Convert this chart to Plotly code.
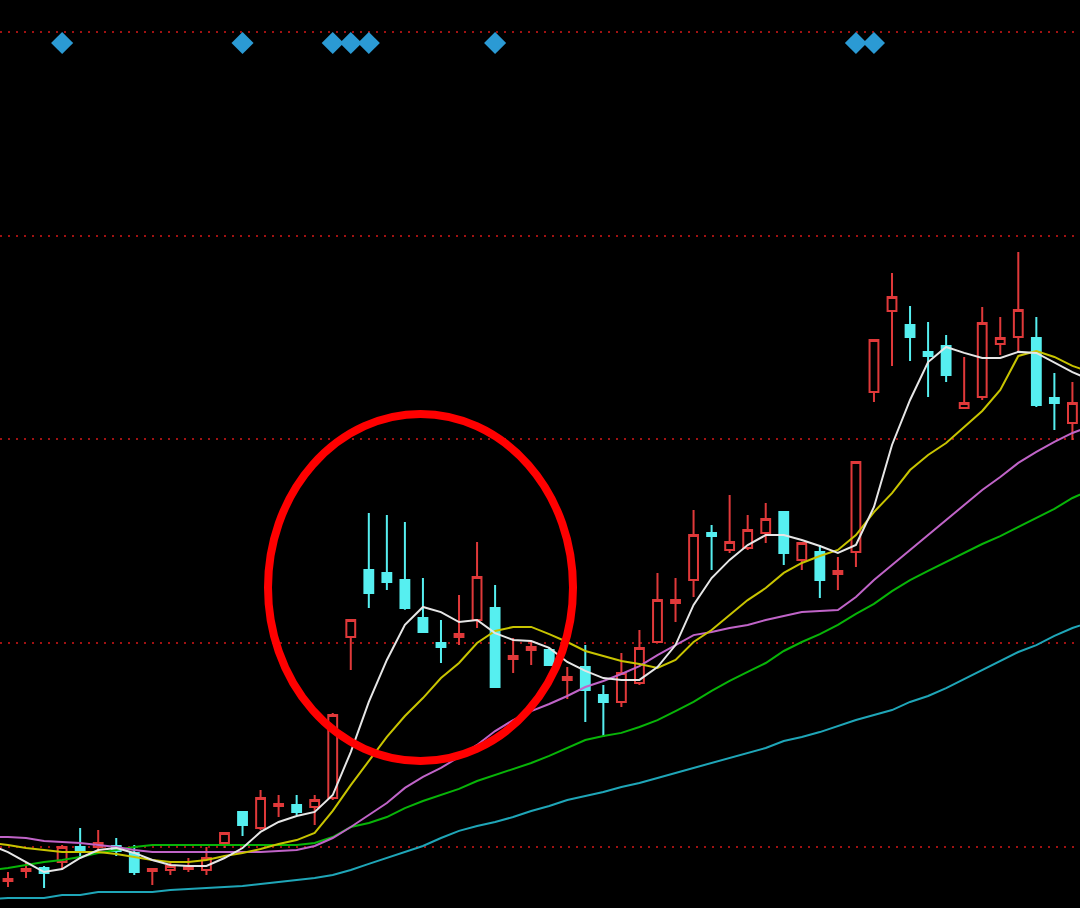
import plotly.graph_objects as go

# ---- candle data (index, open, high, low, close) ----
idx = list(range(60))
opens = [9.833, 9.882, 9.897, 9.926, 10.000, 10.000, 10.005, 9.971, 9.882, 9.887,
         9.892, 9.887, 10.020, 10.172, 10.093, 10.201, 10.206, 10.196, 10.240, 11.031,
         11.360, 11.345, 11.310, 11.124, 11.001, 11.031, 11.114, 11.173, 10.923, 10.967,
         10.967, 10.820, 10.883, 10.746, 10.712, 10.805, 11.006, 11.198, 11.310, 11.541,
         11.458, 11.468, 11.541, 11.644, 11.409, 11.448, 11.340, 11.448, 12.233, 12.631,
         12.562, 12.430, 12.459, 12.155, 12.209, 12.469, 12.503, 12.498, 12.204, 12.081]
highs = [9.877, 9.921, 9.907, 10.010, 10.093, 10.083, 10.044, 10.010, 9.892, 9.921,
         9.946, 10.000, 10.069, 10.172, 10.280, 10.255, 10.255, 10.255, 10.658, 11.114,
         11.639, 11.629, 11.595, 11.320, 11.114, 11.237, 11.497, 11.286, 11.026, 11.006,
         10.977, 10.883, 10.991, 10.795, 10.952, 11.065, 11.345, 11.320, 11.654, 11.580,
         11.728, 11.629, 11.688, 11.649, 11.497, 11.482, 11.423, 11.895, 12.488, 12.817,
         12.655, 12.577, 12.513, 12.405, 12.650, 12.601, 12.920, 12.601, 12.326, 12.282]
lows = [9.804, 9.848, 9.799, 9.887, 9.951, 9.985, 9.956, 9.863, 9.813, 9.863,
        9.877, 9.863, 9.995, 10.054, 10.083, 10.147, 10.157, 10.108, 10.231, 10.869,
        11.173, 11.261, 11.165, 11.050, 10.903, 10.991, 11.075, 10.780, 10.854, 10.893,
        10.888, 10.726, 10.614, 10.540, 10.687, 10.795, 11.001, 11.104, 11.227, 11.360,
        11.443, 11.458, 11.492, 11.384, 11.360, 11.222, 11.261, 11.374, 12.184, 12.361,
        12.385, 12.209, 12.282, 12.150, 12.194, 12.415, 12.425, 12.160, 12.047, 11.998]
closes = [9.843, 9.892, 9.872, 10.000, 9.985, 10.020, 9.980, 9.877, 9.892, 9.907,
          9.907, 9.946, 10.069, 10.108, 10.240, 10.211, 10.172, 10.231, 10.648, 11.114,
          11.247, 11.301, 11.173, 11.055, 10.982, 11.045, 11.325, 10.785, 10.937, 10.982,
          10.893, 10.834, 10.771, 10.712, 10.854, 10.977, 11.212, 11.212, 11.531, 11.526,
          11.497, 11.556, 11.610, 11.443, 11.492, 11.310, 11.355, 11.890, 12.488, 12.699,
          12.503, 12.410, 12.317, 12.179, 12.572, 12.498, 12.636, 12.169, 12.179, 12.179]

# ---- moving averages (index -1 .. 60) ----
ma_idx = list(range(-1, 61))
ma5 = [10.010, 9.975, 9.926, 9.877, 9.892, 9.946, 9.985, 9.995, 9.971, 9.936,
       9.912, 9.907, 9.907, 9.946, 9.995, 10.074, 10.123, 10.152, 10.172, 10.255,
       10.466, 10.712, 10.918, 11.090, 11.178, 11.153, 11.104, 11.114, 11.050, 11.016,
       11.011, 10.977, 10.908, 10.864, 10.829, 10.820, 10.820, 10.883, 10.991, 11.188,
       11.320, 11.409, 11.482, 11.531, 11.531, 11.507, 11.477, 11.443, 11.482, 11.669,
       11.973, 12.194, 12.380, 12.454, 12.425, 12.400, 12.400, 12.430, 12.425, 12.380,
       12.331, 12.292]
ma10 = [10.020, 10.010, 9.995, 9.985, 9.975, 9.975, 9.975, 9.966, 9.951, 9.936,
        9.926, 9.926, 9.936, 9.956, 9.971, 9.990, 10.015, 10.034, 10.069, 10.177,
        10.304, 10.422, 10.540, 10.643, 10.731, 10.829, 10.903, 11.001, 11.060, 11.080,
        11.080, 11.045, 11.006, 10.962, 10.937, 10.913, 10.898, 10.879, 10.918, 11.006,
        11.065, 11.139, 11.212, 11.271, 11.345, 11.394, 11.428, 11.458, 11.531, 11.644,
        11.737, 11.850, 11.924, 11.983, 12.061, 12.140, 12.243, 12.410, 12.434, 12.405,
        12.361, 12.331]
ma20 = [10.049, 10.049, 10.044, 10.029, 10.025, 10.020, 10.010, 10.000, 9.985, 9.975,
        9.975, 9.975, 9.975, 9.975, 9.975, 9.975, 9.980, 9.985, 10.005, 10.044,
        10.098, 10.157, 10.216, 10.290, 10.344, 10.388, 10.442, 10.501, 10.569, 10.623,
        10.667, 10.702, 10.741, 10.785, 10.815, 10.849, 10.888, 10.942, 10.991, 11.040,
        11.055, 11.075, 11.090, 11.114, 11.134, 11.153, 11.158, 11.163, 11.227, 11.310,
        11.384, 11.458, 11.531, 11.605, 11.679, 11.752, 11.816, 11.885, 11.939, 11.988,
        12.032, 12.066]
ma30 = [9.887, 9.897, 9.912, 9.926, 9.936, 9.951, 9.971, 9.985, 10.000, 10.010,
        10.010, 10.010, 10.010, 10.010, 10.010, 10.010, 10.010, 10.010, 10.020, 10.049,
        10.098, 10.118, 10.147, 10.191, 10.226, 10.255, 10.285, 10.324, 10.353, 10.383,
        10.412, 10.447, 10.486, 10.525, 10.545, 10.560, 10.589, 10.623, 10.667, 10.712,
        10.766, 10.815, 10.859, 10.903, 10.962, 11.006, 11.045, 11.090, 11.144, 11.193,
        11.256, 11.310, 11.355, 11.399, 11.443, 11.487, 11.526, 11.571, 11.615, 11.659,
        11.713, 11.752]
ma60 = [9.745, 9.750, 9.750, 9.750, 9.764, 9.764, 9.779, 9.779, 9.779, 9.779,
        9.789, 9.794, 9.799, 9.804, 9.809, 9.818, 9.828, 9.838, 9.848, 9.863,
        9.887, 9.917, 9.946, 9.975, 10.005, 10.044, 10.079, 10.103, 10.123, 10.147,
        10.177, 10.201, 10.231, 10.250, 10.270, 10.294, 10.314, 10.339, 10.363, 10.388,
        10.412, 10.437, 10.461, 10.486, 10.520, 10.540, 10.564, 10.594, 10.623, 10.648,
        10.672, 10.712, 10.741, 10.780, 10.825, 10.869, 10.913, 10.957, 10.991, 11.036,
        11.075, 11.104]

# ---- signal diamonds ----
signal_idx = [3, 13, 18, 19, 20, 27, 47, 48]
signal_level = [13.946] * len(signal_idx)

grid_levels = [10, 11, 12, 13, 14]

RED = "#e0393a"
CYAN = "#56eff0"

fig = go.Figure()
fig.add_trace(go.Candlestick(
    x=idx, open=opens, high=highs, low=lows, close=closes,
    increasing=dict(line=dict(color=RED, width=2), fillcolor="#000000"),
    decreasing=dict(line=dict(color=CYAN, width=2), fillcolor=CYAN),
    whiskerwidth=0, hoverinfo="skip", showlegend=False,
))

ma_styles = [
    (ma60, "#1fa6b8"),
    (ma30, "#08b408"),
    (ma20, "#c064c8"),
    (ma10, "#c8c400"),
    (ma5, "#e6e6e6"),
]
for vals, col in ma_styles:
    fig.add_trace(go.Scatter(x=ma_idx, y=vals, mode="lines",
                             line=dict(color=col, width=2),
                             hoverinfo="skip", showlegend=False))

fig.add_trace(go.Scatter(x=signal_idx, y=signal_level, mode="markers",
                         marker=dict(symbol="diamond", size=17, color="#2b9ad4",
                                     line=dict(width=0)),
                         hoverinfo="skip", showlegend=False))

# red highlight circle
fig.add_shape(type="circle", xref="paper", yref="paper",
              x0=268 / 1080, x1=573 / 1080,
              y0=1 - 761 / 908, y1=1 - 414 / 908,
              line=dict(color="#ff0000", width=8), layer="above")

fig.update_layout(
    width=1080, height=908,
    margin=dict(l=0, r=0, t=0, b=0),
    paper_bgcolor="#000000", plot_bgcolor="#000000",
    showlegend=False,
    xaxis=dict(range=[-0.443, 59.42], showgrid=False, zeroline=False,
               showticklabels=False, rangeslider=dict(visible=False), fixedrange=True),
    yaxis=dict(range=[9.7006, 14.157], tickvals=grid_levels, showticklabels=False,
               showgrid=True, gridcolor="#a01212", gridwidth=1.5, griddash="2px,6px",
               zeroline=False, fixedrange=True),
)

fig.write_html("out.html", config={"displayModeBar": False},
               post_script="document.body.style.margin='0';")
